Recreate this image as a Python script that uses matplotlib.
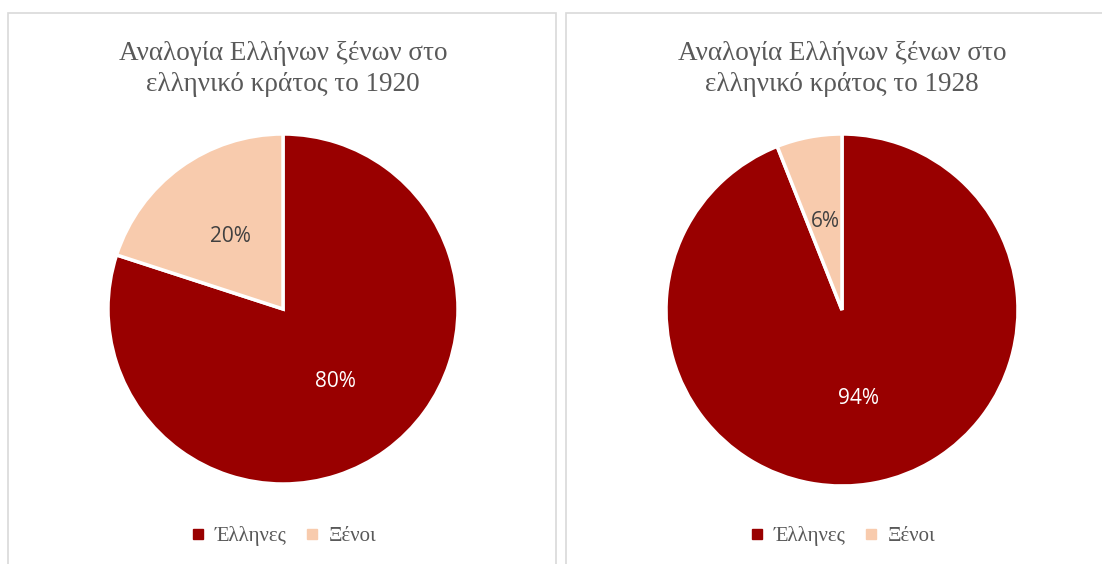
import matplotlib.pyplot as plt
from matplotlib.patches import Rectangle
from matplotlib.lines import Line2D

# δεδομένα
labels = ["Έλληνες", "Ξένοι"]
years = ["1920", "1928"]
share_1920 = [80, 20]
share_1928 = [94, 6]
colors = ["#990000", "#F8CBAD"]

W, H = 1102, 564
fig = plt.figure(figsize=(W / 100, H / 100), dpi=100)
fig.patch.set_facecolor("white")

serif = ["Liberation Serif", "DejaVu Serif"]
sans = ["Open Sans", "DejaVu Sans"]

# πλαίσια των δύο γραφημάτων (pixel -> figure coords)
for x0, x1 in [(8, 556), (566, 1110)]:
    fig.patches.append(Rectangle((x0 / W, -0.05), (x1 - x0) / W, (H - 13) / H + 0.05,
                                 transform=fig.transFigure, fill=False,
                                 edgecolor="#D9D9D9", linewidth=1.2))

panels = [(283, 309, 175, share_1920, years[0]),
          (842, 310, 176, share_1928, years[1])]

for cx, cy, r, vals, yr in panels:
    ax = fig.add_axes([(cx - r) / W, (H - cy - r) / H, 2 * r / W, 2 * r / H])
    wedges, _, autotexts = ax.pie(vals, colors=colors, startangle=90, counterclock=False,
                                  autopct="%d%%", pctdistance=0.51,
                                  wedgeprops=dict(edgecolor="white", linewidth=2.5),
                                  textprops=dict(fontsize=15, family=sans))
    autotexts[0].set_color("white")
    autotexts[1].set_color("#404040")
    ax.set_xlim(-1, 1)
    ax.set_ylim(-1, 1)
    ax.set_aspect("equal")
    ax.axis("off")

    # τίτλος
    fig.text(cx / W, (H - 69) / H, "Αναλογία Ελλήνων ξένων στο\nελληνικό κράτος το " + yr,
             ha="center", va="center", fontsize=19.5, color="#595959",
             family=serif, linespacing=1.33)

    # υπόμνημα
    handles = [Line2D([], [], marker="s", linestyle="", markersize=7,
                      markerfacecolor=c, markeredgecolor=c) for c in colors]
    fig.legend(handles, labels, loc="center", bbox_to_anchor=(cx / W, (H - 536) / H),
               ncol=2, frameon=False, handletextpad=0.4, columnspacing=0.8,
               handlelength=0.8, prop=dict(family=serif, size=15), labelcolor="#595959")

fig.savefig("out.png", dpi=100)
